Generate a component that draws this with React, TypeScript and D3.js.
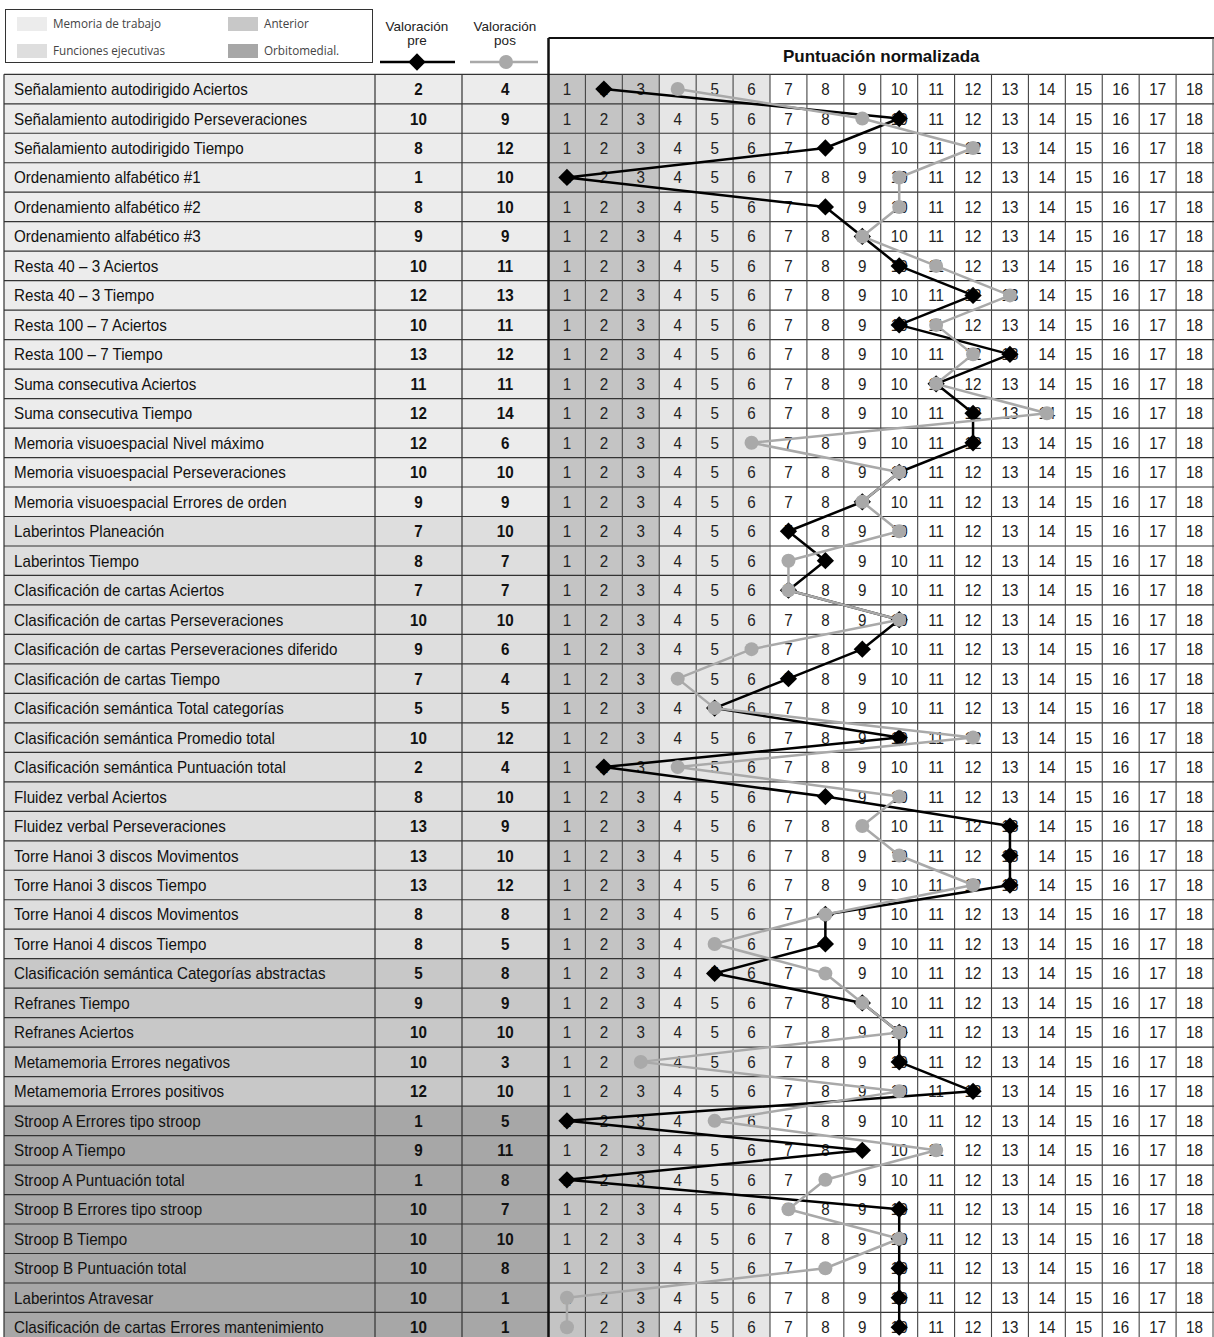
import { useEffect } from 'react';
import * as d3 from 'd3';

// tests in display order
const tests = [
  'Señalamiento autodirigido Aciertos',
  'Señalamiento autodirigido Perseveraciones',
  'Señalamiento autodirigido Tiempo',
  'Ordenamiento alfabético #1',
  'Ordenamiento alfabético #2',
  'Ordenamiento alfabético #3',
  'Resta 40 – 3 Aciertos',
  'Resta 40 – 3 Tiempo',
  'Resta 100 – 7 Aciertos',
  'Resta 100 – 7 Tiempo',
  'Suma consecutiva Aciertos',
  'Suma consecutiva Tiempo',
  'Memoria visuoespacial Nivel máximo',
  'Memoria visuoespacial Perseveraciones',
  'Memoria visuoespacial Errores de orden',
  'Laberintos Planeación',
  'Laberintos Tiempo',
  'Clasificación de cartas Aciertos',
  'Clasificación de cartas Perseveraciones',
  'Clasificación de cartas Perseveraciones diferido',
  'Clasificación de cartas Tiempo',
  'Clasificación semántica Total categorías',
  'Clasificación semántica Promedio total',
  'Clasificación semántica Puntuación total',
  'Fluidez verbal Aciertos',
  'Fluidez verbal Perseveraciones',
  'Torre Hanoi 3 discos Movimentos',
  'Torre Hanoi 3 discos Tiempo',
  'Torre Hanoi 4 discos Movimentos',
  'Torre Hanoi 4 discos Tiempo',
  'Clasificación semántica Categorías abstractas',
  'Refranes Tiempo',
  'Refranes Aciertos',
  'Metamemoria Errores negativos',
  'Metamemoria Errores positivos',
  'Stroop A Errores tipo stroop',
  'Stroop A Tiempo',
  'Stroop A Puntuación total',
  'Stroop B Errores tipo stroop',
  'Stroop B Tiempo',
  'Stroop B Puntuación total',
  'Laberintos Atravesar',
  'Clasificación de cartas Errores mantenimiento',
];

const preScores = [2, 10, 8, 1, 8, 9, 10, 12, 10, 13, 11, 12, 12, 10, 9, 7, 8, 7, 10, 9, 7, 5, 10, 2, 8, 13, 13, 13, 8, 8, 5, 9, 10, 10, 12, 1, 9, 1, 10, 10, 10, 10, 10];
const posScores = [4, 9, 12, 10, 10, 9, 11, 13, 11, 12, 11, 14, 6, 10, 9, 10, 7, 7, 10, 6, 4, 5, 12, 4, 10, 9, 10, 12, 8, 5, 8, 9, 10, 3, 10, 5, 11, 8, 7, 10, 8, 1, 1];

// group of each row: 0 memoria, 1 funciones, 2 anterior, 3 orbitomedial
const rowGroups = [
  0, 0, 0, 0, 0, 0, 0, 0, 0, 0, 0, 0, 0, 0, 0,
  1, 1, 1, 1, 1, 1, 1, 1, 1, 1, 1, 1, 1, 1, 1,
  2, 2, 2, 2, 2,
  3, 3, 3, 3, 3, 3, 3, 3,
];
const groupNames = ['Memoria de trabajo', 'Funciones ejecutivas', 'Anterior', 'Orbitomedial.'];
const groupColors = ['#ececec', '#dedede', '#c8c8c8', '#a7a7a7'];

const scores = d3.range(1, 19);

const W = 1214;
const H = 1337;
const FONT = "'Liberation Sans', Arial, sans-serif";
const LEGEND_FONT = "'Open Sans', 'Noto Sans', sans-serif";
const SX = 0.95; // the table font is a slightly condensed sans

function NText({ x, y, anchor = 'start', bold = false, size = 16, fill = '#111', sx = SX, children }: any) {
  return (
    <text
      transform={`translate(${x},${y}) scale(${sx},1)`}
      textAnchor={anchor}
      fontSize={size}
      fontWeight={bold ? 'bold' : 'normal'}
      fill={fill}
    >
      {children}
    </text>
  );
}

export default function App() {
  useEffect(() => {
    document.body.style.margin = '0';
  }, []);

  const tableTop = 74.3;
  const rowH = 29.48;
  const y = d3.scaleBand<number>()
    .domain(d3.range(tests.length))
    .range([tableTop, tableTop + rowH * tests.length]);
  const x = d3.scaleBand<number>()
    .domain(scores)
    .range([548.5, 1213]);
  const cx = (s: number) => (x(s) ?? 0) + x.bandwidth() / 2;
  const cy = (i: number) => (y(i) ?? 0) + y.bandwidth() / 2;

  const colName = [4, 375];
  const colPre = [375, 462];
  const colPos = [462, 548.5];
  const tableBottom = tableTop + rowH * tests.length;

  const line = d3.line<number>()
    .x(d => cx(d))
    .y((_, i) => cy(i));

  const diamond = d3.symbol().type(d3.symbolDiamond2).size(190)()!;
  const colFill = (s: number) => (s <= 3 ? '#c4c4c4' : s <= 6 ? '#e6e6e6' : '#ffffff');

  return (
    <svg width={W} height={H} style={{ display: 'block', background: '#fff' }} fontFamily={FONT}>
      {/* legend box */}
      <rect x={5.5} y={9.5} width={367} height={53} fill="#fff" stroke="#333" strokeWidth={1} />
      {groupNames.map((g, i) => {
        const lx = i < 2 ? 17 : 228;
        const ly = i % 2 === 0 ? 17 : 44;
        return (
          <g key={g}>
            <rect x={lx} y={ly} width={30} height={14} fill={groupColors[i]} />
            <text x={lx + 36} y={ly + 11.5} fontSize={13} fontFamily={LEGEND_FONT} fill="#444"
              transform={`translate(${lx + 36},0) scale(0.9,1) translate(${-(lx + 36)},0)`}>{g}</text>
          </g>
        );
      })}

      {/* pre / pos header */}
      {[{ cxh: 417, t: 'pre' }, { cxh: 505, t: 'pos' }].map(h => (
        <g key={h.t}>
          <text x={h.cxh} y={31} textAnchor="middle" fontSize={13.5} fill="#222">Valoración</text>
          <text x={h.cxh} y={45} textAnchor="middle" fontSize={13.5} fill="#222">{h.t}</text>
        </g>
      ))}
      <line x1={380} x2={455} y1={62} y2={62} stroke="#000" strokeWidth={2.5} />
      <path d={diamond} transform="translate(417,62)" fill="#000" />
      <line x1={470} x2={538} y1={62} y2={62} stroke="#a9a9a9" strokeWidth={2.5} />
      <circle cx={506} cy={62} r={7} fill="#a9a9a9" />

      {/* grid header */}
      <rect x={548.5} y={38} width={W - 548.5} height={tableTop - 38} fill="#fff" />
      <NText x={(548.5 + W) / 2} y={62} anchor="middle" size={17} sx={1} bold>Puntuación normalizada</NText>
      <line x1={548.5} x2={W} y1={38} y2={38} stroke="#111" strokeWidth={2} />

      {/* rows */}
      {tests.map((t, i) => (
        <g key={t}>
          <rect x={colName[0]} y={y(i)} width={colPos[1] - colName[0]} height={rowH} fill={groupColors[rowGroups[i]]} />
          <NText x={14} y={cy(i) + 6}>{t}</NText>
          <NText x={(colPre[0] + colPre[1]) / 2} y={cy(i) + 6} anchor="middle" bold>{preScores[i]}</NText>
          <NText x={(colPos[0] + colPos[1]) / 2} y={cy(i) + 6} anchor="middle" bold>{posScores[i]}</NText>
          {scores.map(s => (
            <g key={s}>
              <rect x={x(s)} y={y(i)} width={x.bandwidth()} height={rowH} fill={colFill(s)} />
              <NText x={cx(s)} y={cy(i) + 6} anchor="middle" fill="#222">{s}</NText>
            </g>
          ))}
        </g>
      ))}

      {/* table lines */}
      {d3.range(tests.length + 1).map(i => (
        <line key={'h' + i} x1={colName[0]} x2={W} y1={tableTop + rowH * i} y2={tableTop + rowH * i} stroke="#333" strokeWidth={1.2} />
      ))}
      {[colName[0], colPre[0], colPos[0]].map(v => (
        <line key={'v' + v} x1={v} x2={v} y1={tableTop} y2={tableBottom} stroke="#333" strokeWidth={1.2} />
      ))}
      {scores.slice(1).map(s => (
        <line key={'g' + s} x1={x(s)} x2={x(s)} y1={tableTop} y2={tableBottom} stroke="#444" strokeWidth={1.1} />
      ))}
      <line x1={548.5} x2={548.5} y1={38} y2={tableBottom} stroke="#111" strokeWidth={2.5} />
      <line x1={W - 1} x2={W - 1} y1={38} y2={tableBottom} stroke="#444" strokeWidth={1} />

      {/* pre series */}
      <path d={line(preScores) ?? ''} fill="none" stroke="#000" strokeWidth={2.5} strokeLinejoin="round" />
      {preScores.map((s, i) => (
        <path key={'pd' + i} d={diamond} transform={`translate(${cx(s)},${cy(i)})`} fill="#000" />
      ))}

      {/* pos series */}
      <path d={line(posScores) ?? ''} fill="none" stroke="#a9a9a9" strokeWidth={2.5} strokeLinejoin="round" />
      {posScores.map((s, i) => (
        <circle key={'pc' + i} cx={cx(s)} cy={cy(i)} r={7} fill="#a9a9a9" />
      ))}
    </svg>
  );
}
